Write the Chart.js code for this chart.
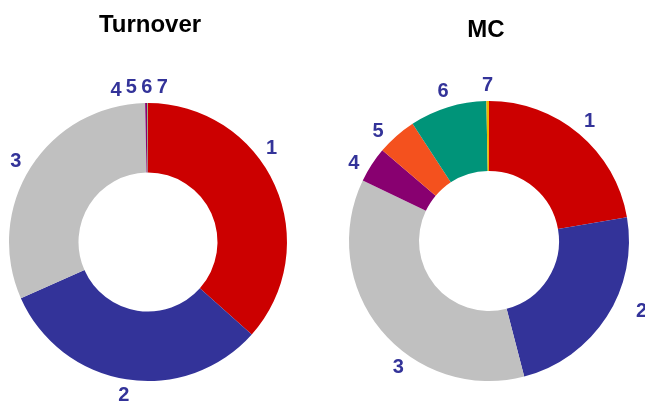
<!DOCTYPE html>
<html>
<head>
<meta charset="utf-8">
<script src="https://cdn.jsdelivr.net/npm/chart.js@4"></script>
<style>
  body { margin: 0; background: #fff; }
  .wrap { position: relative; width: 645px; height: 402px; }
  .box { position: absolute; top: 0; height: 402px; }
</style>
</head>
<body>
<div class="wrap">
  <div class="box" style="left:0;width:322px"><canvas id="turnover"></canvas></div>
  <div class="box" style="left:322px;width:323px"><canvas id="mc"></canvas></div>
</div>
<script>
const categories = ['1', '2', '3', '4', '5', '6', '7'];
const turnoverValues = [36.6, 31.8, 31.3, 0.23, 0.02, 0.05, 0.03];
const mcValues = [22.3, 23.7, 36.2, 4.1, 4.6, 8.9, 0.3];
const sliceColors = ['#CC0000', '#333399', '#C0C0C0', '#880070', '#F4511E', '#009479', '#F0B400'];

// draws title and the slice numbers around the ring
const ringLabels = {
    id: 'ringLabels',
    afterDraw(chart, args, opts) {
        const ctx = chart.ctx;
        const arcs = chart.getDatasetMeta(0).data;
        if (!arcs.length) return;
        const cx = arcs[0].x, cy = arcs[0].y, r = arcs[0].outerRadius;
        const sep = 0.1;
        const deg = Math.PI / 180;

        // spread labels of thin slices so they don't overlap
        let groups = [];
        arcs.forEach((a, i) => {
            const mid = (a.startAngle + a.endAngle) / 2 + (opts.turn[i] || 0) * deg;
            groups.push({ items: [{ i, mid }] });
            while (groups.length > 1) {
                const g = groups[groups.length - 1], p = groups[groups.length - 2];
                const pc = p.items.reduce((s, t) => s + t.mid, 0) / p.items.length;
                const gc = g.items.reduce((s, t) => s + t.mid, 0) / g.items.length;
                const pEnd = pc + (p.items.length - 1) * sep / 2;
                const gStart = gc - (g.items.length - 1) * sep / 2;
                if (gStart - pEnd < sep) {
                    groups.pop();
                    groups[groups.length - 1] = { items: p.items.concat(g.items) };
                } else break;
            }
        });

        ctx.save();
        ctx.fillStyle = '#333399';
        ctx.font = 'bold 20px "Liberation Sans", Arial, sans-serif';
        ctx.textAlign = 'center';
        ctx.textBaseline = 'middle';
        groups.forEach(g => {
            const c = g.items.reduce((s, t) => s + t.mid, 0) / g.items.length;
            g.items.forEach((t, k) => {
                const ang = c - (g.items.length - 1) * sep / 2 + k * sep;
                const d = r + 16 + (opts.push[t.i] || 0);
                ctx.fillText(chart.data.labels[t.i], cx + d * Math.cos(ang), cy + d * Math.sin(ang));
            });
        });

        ctx.fillStyle = '#000';
        ctx.font = 'bold 24px "Liberation Sans", Arial, sans-serif';
        ctx.fillText(opts.title, cx + opts.titleDx, opts.titleY);
        ctx.restore();
    }
};

function makeRing(id, values, title, padding, titleDx, titleY, turn, push) {
    return new Chart(document.getElementById(id), {
        type: 'doughnut',
        data: {
            labels: categories,
            datasets: [{
                data: values,
                backgroundColor: sliceColors,
                borderWidth: 0
            }]
        },
        options: {
            responsive: true,
            maintainAspectRatio: false,
            animation: false,
            cutout: '50%',
            layout: { padding: padding },
            plugins: {
                legend: { display: false },
                tooltip: { enabled: false },
                ringLabels: { title, titleDx, titleY, turn, push }
            }
        },
        plugins: [ringLabels]
    });
}

makeRing('turnover', turnoverValues, 'Turnover', { left: 9, right: 35, top: 103, bottom: 21 }, 2, 25,
    [-13, 0, -1, -3, -3, -3, -3], [0, 0, 0, 0, 0, 0, 0]);
makeRing('mc', mcValues, 'MC', { left: 27, right: 16, top: 101, bottom: 21 }, -3, 30,
    [0, -8, -15, -3, -4, 0, 0], [0, 12, 0, 0, 0, 0, 0]);
</script>
</body>
</html>
